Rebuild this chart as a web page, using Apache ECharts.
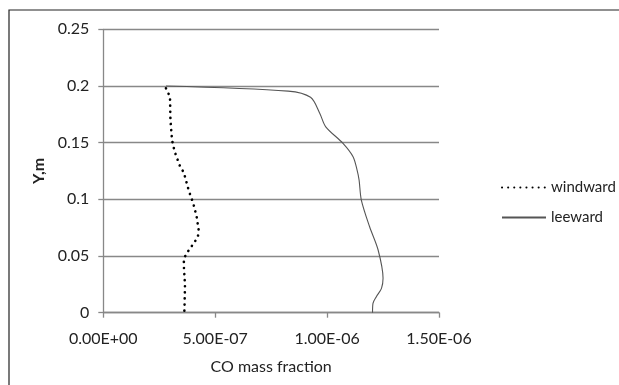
<!DOCTYPE html>
<html><head><meta charset="utf-8">
<script src="https://cdn.jsdelivr.net/npm/echarts@6/dist/echarts.min.js"></script>
<style>html,body{margin:0;padding:0;background:#fff}#c{width:619px;height:385px}</style>
</head><body><div id="c"></div>
<script>
const windY = [0.198,0.1905,0.17,0.1523,0.142,0.1296,0.1235,0.107,0.0965,0.0847,0.0732,0.0674,0.0623,0.0573,0.0524,0.0474,0.0406,0.0244,0.006,0];
const windX = [2.8e-7,2.98e-7,3.0e-7,3.07e-7,3.19e-7,3.42e-7,3.6e-7,3.83e-7,4.02e-7,4.17e-7,4.26e-7,4.23e-7,4.08e-7,3.9e-7,3.72e-7,3.6e-7,3.6e-7,3.65e-7,3.63e-7,3.62e-7];
const leeY = [0.2,0.1955,0.19,0.176,0.164,0.1494,0.1376,0.1258,0.117,0.0994,0.0758,0.0553,0.0303,0.0215,0.0141,0.0083,0];
const leeX = [2.8e-7,8.26e-7,9.26e-7,9.67e-7,9.94e-7,10.71e-7,11.16e-7,11.34e-7,11.43e-7,11.53e-7,11.9e-7,12.28e-7,12.5e-7,12.43e-7,12.2e-7,12.05e-7,12.03e-7];
const seriesNames = ['windward','leeward'];
const xTitle = 'CO mass fraction';
const yTitle = 'Y,m';

function sci(v){
  if (Math.abs(v) < 1e-20) return '0.00E+00';
  let e = Math.floor(Math.log10(Math.abs(v)) + 1e-9);
  let m = v / Math.pow(10, e);
  let s = e < 0 ? '-' : '+';
  let ea = Math.abs(e);
  return m.toFixed(2) + 'E' + s + (ea < 10 ? '0' + ea : ea);
}
const font = 'Lato';
const chart = echarts.init(document.getElementById('c'));
chart.setOption({
  animation:false,
  grid:{left:103.3,right:180,top:29.3,bottom:72.3},
  graphic:[{type:'rect',shape:{x:9,y:10,width:640,height:400},style:{fill:'none',stroke:'#222',lineWidth:1.2}}],
  xAxis:{type:'value',min:0,max:1.5e-6,interval:5e-7,
    name:xTitle,nameLocation:'middle',nameGap:46,
    nameTextStyle:{fontFamily:font,fontSize:16,color:'#222'},
    axisLine:{show:true,lineStyle:{color:'#888',width:1.3}},
    axisTick:{show:true,length:5,lineStyle:{color:'#888',width:1.3}},
    splitLine:{show:false},
    axisLabel:{formatter:sci,fontFamily:font,fontSize:16,color:'#222',margin:18}},
  yAxis:{type:'value',min:0,max:0.25,interval:0.05,
    name:yTitle,nameLocation:'middle',nameGap:35,nameRotate:90,
    nameTextStyle:{fontFamily:font,fontSize:16,fontWeight:'bold',color:'#222'},
    axisLine:{show:true,lineStyle:{color:'#888',width:1.3}},
    axisTick:{show:true,length:5,lineStyle:{color:'#888',width:1.3}},
    splitLine:{show:true,lineStyle:{color:'#888',width:1.3}},
    axisLabel:{formatter:v=>String(+v.toFixed(2)),fontFamily:font,fontSize:16,color:'#222',margin:14}},
  legend:{orient:'vertical',left:496,top:175,itemWidth:44,itemHeight:10,itemGap:15,
    itemStyle:{opacity:0},
    textStyle:{fontFamily:font,fontSize:15,color:'#222'},
    data:seriesNames},
  series:[
    {name:seriesNames[0],type:'line',showSymbol:false,symbol:'none',
     data:windX.map((x,i)=>[x,windY[i]]),
     lineStyle:{color:'#000',width:2.6,type:[0.1,6],cap:'round'},itemStyle:{color:'#000'}},
    {name:seriesNames[1],type:'line',showSymbol:false,symbol:'none',smooth:0.3,
     data:leeX.map((x,i)=>[x,leeY[i]]),
     lineStyle:{color:'#555',width:1.1},itemStyle:{color:'#555'}}
  ]
});
</script></body></html>
